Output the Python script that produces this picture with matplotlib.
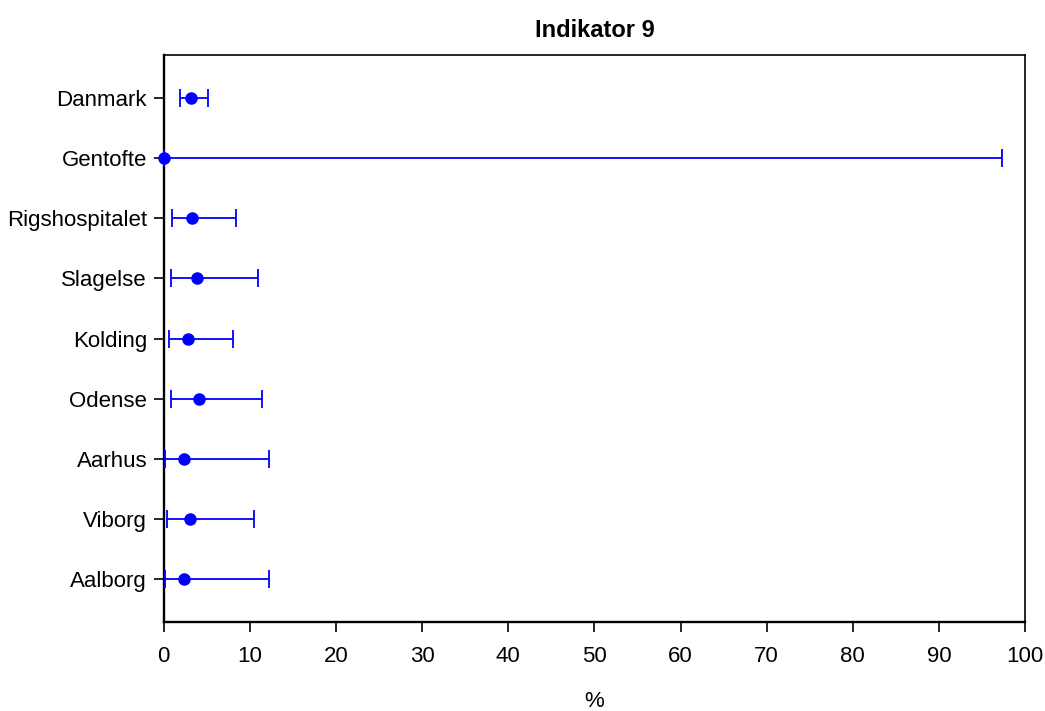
import matplotlib
matplotlib.use("Agg")
import matplotlib.pyplot as plt
import numpy as np

plt.rcParams['font.family'] = ['Liberation Sans', 'DejaVu Sans']

# Units, top to bottom
units = ["Danmark", "Gentofte", "Rigshospitalet", "Slagelse", "Kolding",
         "Odense", "Aarhus", "Viborg", "Aalborg"]
estimate = [3.2, 0.0, 3.3, 3.9, 2.8, 4.1, 2.3, 3.0, 2.3]
ci_lower = [1.9, 0.0, 0.9, 0.85, 0.6, 0.85, 0.15, 0.35, 0.15]
ci_upper = [5.1, 97.3, 8.4, 10.9, 8.0, 11.35, 12.25, 10.5, 12.25]

xticks = [0, 10, 20, 30, 40, 50, 60, 70, 80, 90, 100]

fig = plt.figure(figsize=(10.45, 7.11), dpi=100)
ax = fig.add_axes([0.1567, 0.1252, 0.8243, 0.7974])

n = len(units)
ypos = np.arange(n, 0, -1)
est = np.array(estimate)
lo = np.array(ci_lower)
hi = np.array(ci_upper)

ax.errorbar(est, ypos, xerr=[est - lo, hi - est], fmt='o', color='#0000ff',
            ecolor='#0000ff', elinewidth=1.3, capsize=6.2, capthick=1.3,
            markersize=8, clip_on=False, zorder=3)

ax.set_xlim(0, 100)
ax.set_ylim(0.28, n + 0.72)
ax.set_yticks(ypos)
ax.set_yticklabels(units)
ax.set_xticks(xticks)
ax.set_xticklabels([str(t) for t in xticks])

ax.tick_params(axis='both', direction='out', length=7.5, width=1.2,
               labelsize=16, colors='black')
ax.tick_params(axis='x', pad=10)
ax.tick_params(axis='y', pad=4.5)

for side in ['left', 'bottom']:
    ax.spines[side].set_linewidth(1.7)
for side in ['top', 'right']:
    ax.spines[side].set_linewidth(1.2)

ax.set_xlabel('%', fontsize=16, labelpad=17)
ax.set_title('Indikator 9', fontsize=17, fontweight='bold', pad=13)

fig.savefig('out.png', dpi=100)
